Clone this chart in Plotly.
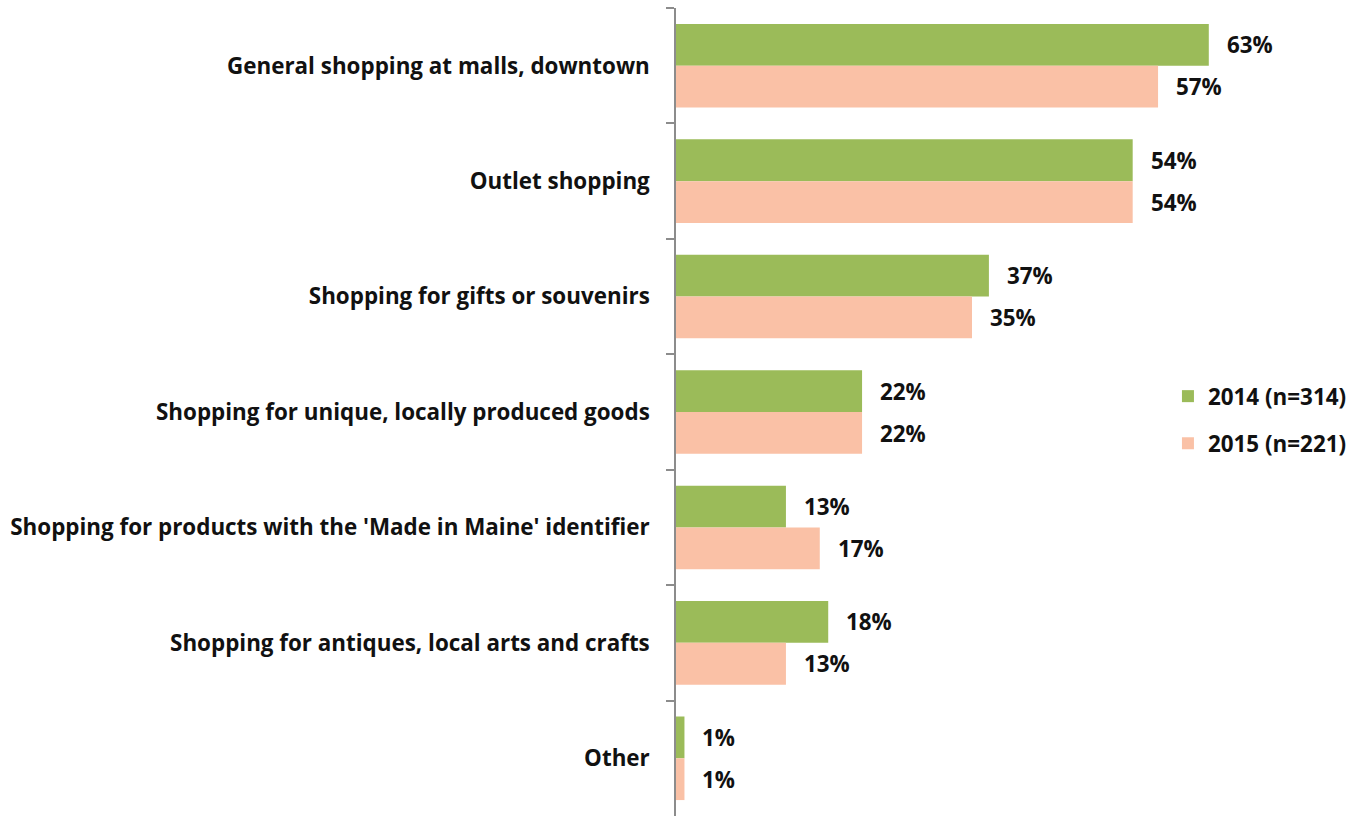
import plotly.graph_objects as go

# Shopping activities, share of respondents (%)
categories = [
    "General shopping at malls, downtown",
    "Outlet shopping",
    "Shopping for gifts or souvenirs",
    "Shopping for unique, locally produced goods",
    "Shopping for products with the 'Made in Maine' identifier",
    "Shopping for antiques, local arts and crafts",
    "Other",
]
values_2014 = [63, 54, 37, 22, 13, 18, 1]
values_2015 = [57, 54, 35, 22, 17, 13, 1]
series_names = ["2014 (n=314)", "2015 (n=221)"]

GREEN = "#9BBB59"
PEACH = "#FAC1A6"
FONT = "Open Sans"
TEXT = "#111111"
SIZE = 22.4

fig = go.Figure()
fig.add_trace(go.Bar(
    y=categories, x=values_2014, orientation="h", name=series_names[0],
    marker=dict(color=GREEN, line=dict(width=0)), legendgroup="a",
))
fig.add_trace(go.Bar(
    y=categories, x=values_2015, orientation="h", name=series_names[1],
    marker=dict(color=PEACH, line=dict(width=0)), legendgroup="b",
))

# value labels to the right of each bar
annotations = []
for series, shift in ((values_2014, 21), (values_2015, -21)):
    for cat, v in zip(categories, series):
        annotations.append(dict(
            x=v, y=cat, xref="x", yref="y", text=f"{v}%", showarrow=False,
            xanchor="left", yanchor="middle", xshift=16, yshift=shift,
            font=dict(family=FONT, size=SIZE, color=TEXT, weight="bold"),
        ))

fig.update_layout(
    width=1354, height=816,
    margin=dict(l=676, r=86, t=8, b=0),
    paper_bgcolor="white", plot_bgcolor="white",
    barmode="group", bargap=0.276, bargroupgap=0,
    font=dict(family=FONT, size=SIZE, color=TEXT),
    annotations=annotations,
    legend=dict(
        x=0.831, y=0.49, xanchor="left", yanchor="middle",
        font=dict(family=FONT, size=SIZE, color=TEXT, weight="bold"),
        traceorder="grouped", tracegroupgap=15,
        bgcolor="rgba(0,0,0,0)",
    ),
    xaxis=dict(range=[0, 70], visible=False, showgrid=False, zeroline=False),
    yaxis=dict(
        autorange="reversed", showline=True, linecolor="#8c8c8c", linewidth=1.5,
        ticks="outside", ticklen=8, tickcolor="#8c8c8c", tickwidth=1.5,
        tickson="boundaries", showgrid=False, ticklabelstandoff=20,
        tickfont=dict(family=FONT, size=SIZE, color=TEXT, weight="bold"),
    ),
)

fig.write_html("out.html")
